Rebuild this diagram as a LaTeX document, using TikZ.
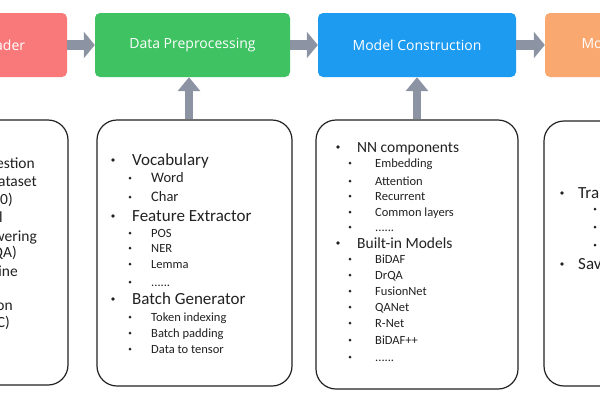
\documentclass[tikz,border=0pt]{standalone}
\usepackage{fontspec}
\setmainfont{Carlito}
\newfontfamily\boxfont{Open Sans}
\usetikzlibrary{arrows.meta}

\definecolor{readerred}{HTML}{F9797A}
\definecolor{prepgreen}{HTML}{3EC262}
\definecolor{modelblue}{HTML}{1D9BF0}
\definecolor{trainorange}{HTML}{F9A870}
\definecolor{flowgray}{HTML}{8C94A3}
\definecolor{ink}{HTML}{222222}

\newcommand\etcdots{......}

\tikzset{
  stage/.style={rectangle, rounded corners=5pt, minimum height=64pt, inner sep=0,
    text=white, font=\boxfont\fontsize{14}{14}\selectfont},
  panel/.style={rectangle, rounded corners=20pt, draw=ink, line width=1.2pt, fill=white},
  flow/.style={draw=flowgray, line width=10pt, -{Triangle[width=26pt,length=11pt]}},
  upflow/.style={draw=flowgray, line width=8pt, -{Triangle[width=22pt,length=14pt]}},
  itemA/.style={anchor=base west, inner sep=0, text=ink, font=\fontsize{17}{17}\selectfont},
  itemM/.style={anchor=base west, inner sep=0, text=ink, font=\fontsize{15.5}{15.5}\selectfont},
  itemB/.style={anchor=base west, inner sep=0, text=ink, font=\fontsize{14.5}{14.5}\selectfont},
  itemC/.style={anchor=base west, inner sep=0, text=ink, font=\fontsize{12.5}{12.5}\selectfont},
  cutline/.style={anchor=base east, inner sep=0, text=ink, font=\fontsize{15.5}{15.5}\selectfont},
  dotA/.style={circle, fill=ink, inner sep=0, minimum size=3.8pt},
  dotB/.style={circle, fill=ink, inner sep=0, minimum size=3pt}
}

\begin{document}
\begin{tikzpicture}[x=1pt,y=-1pt]
  \useasboundingbox (0,0) rectangle (600,400);
  \clip (0,0) rectangle (600,400);
  \fill[white] (0,0) rectangle (600,400);

  %Stages
  \node[stage, fill=readerred, minimum width=184pt] (reader) at (-25,45) {Dataset Reader};
  \node[stage, fill=prepgreen, minimum width=195pt] (prep) at (192.5,45) {Data Preprocessing};
  \node[stage, fill=modelblue, minimum width=198pt] (model) at (417,45) {Model Construction};
  \node[stage, fill=trainorange, minimum width=170pt] (train) at (630,45) {Model Training};
  \draw[flow] (reader.east) -- (prep.west);
  \draw[flow] (prep.east) -- (model.west);
  \draw[flow] (model.east) -- (train.west);

  %Panels
  \node[panel, minimum width=188pt, minimum height=265pt] (readerbox) at (-26,252.5) {};
  \node[panel, minimum width=195pt, minimum height=266pt] (prepbox) at (194.5,253) {};
  \node[panel, minimum width=202pt, minimum height=269pt] (modelbox) at (417,254.5) {};
  \node[panel, minimum width=196pt, minimum height=265pt] (trainbox) at (642,253.5) {};
  \draw[upflow] ([xshift=-5.5pt]prepbox.north) -- ([xshift=-3.5pt]prep.south);
  \draw[upflow] (modelbox.north) -- (model.south);

  %Reader panel
  \node[cutline] (rl1) at (35,168) {Stanford Question};
  \node[cutline] (rl2) at (37,186.5) {Answering Dataset};
  \node[cutline] (rl3) at (13,204.5) {(SQuAD1.0/2.0)};
  \node[cutline] (rl4) at (3,222) {Conversational};
  \node[cutline] (rl5) at (37,241) {Question Answering};
  \node[cutline] (rl6) at (17,257.5) {Dataset (CoQA)};
  \node[cutline] (rl7) at (18,276) {Chinese Machine};
  \node[cutline] (rl8) at (13,310.5) {Comprehension};
  \node[cutline] (rl9) at (10,327.5) {(CMRC)};

  %Preprocessing panel
  \node[dotA] (pd1) at (113,160) {};
  \node[itemA] (voc) at (132,165) {Vocabulary};
  \foreach \y/\t [count=\i] in {178/Word,197/Char}{
    \node[dotB] (vd\i) at (130,\y) {};
    \node[itemB] (vt\i) at (151,\y+4.5) {\t};
  }
  \node[dotA] (pd2) at (113,216) {};
  \node[itemA] (feat) at (132,221) {Feature Extractor};
  \foreach \y/\t [count=\i] in {233/POS,248/NER,264/Lemma,282/\etcdots}{
    \node[dotB] (fd\i) at (130,\y) {};
    \node[itemC] (ft\i) at (151,\y+4) {\t};
  }
  \node[dotA] (pd3) at (113,299) {};
  \node[itemA] (batch) at (132,304) {Batch Generator};
  \foreach \y/\t [count=\i] in {317/Token indexing,333/Batch padding,349/Data to tensor}{
    \node[dotB] (bd\i) at (130,\y) {};
    \node[itemC] (bt\i) at (151,\y+4) {\t};
  }

  %Model panel
  \node[dotA] (md1) at (338,147) {};
  \node[itemM] (nn) at (357,152) {NN components};
  \foreach \y/\t [count=\i] in {163/Embedding,181/Attention,196/Recurrent,212/Common layers,227/\etcdots}{
    \node[dotB] (nd\i) at (350,\y) {};
    \node[itemC] (nt\i) at (375,\y+4) {\t};
  }
  \node[dotA] (md2) at (338,243) {};
  \node[itemM] (builtin) at (357,248) {Built-in Models};
  \foreach \y/\t [count=\i] in {259/BiDAF,275/DrQA,291/FusionNet,307/QANet,323/R-Net,340/BiDAF++,357/\etcdots}{
    \node[dotB] (bmd\i) at (350,\y) {};
    \node[itemC] (bmt\i) at (375,\y+4) {\t};
  }

  %Training panel
  \node[dotA] (td1) at (562,193) {};
  \node[itemA] (training) at (578,198) {Training};
  \foreach \y [count=\i] in {209,227,245}
    \node[dotB] (tsd\i) at (595,\y) {};
  \node[dotA] (td2) at (562,264) {};
  \node[itemA] (saving) at (578,269) {Saving};
\end{tikzpicture}
\end{document}
